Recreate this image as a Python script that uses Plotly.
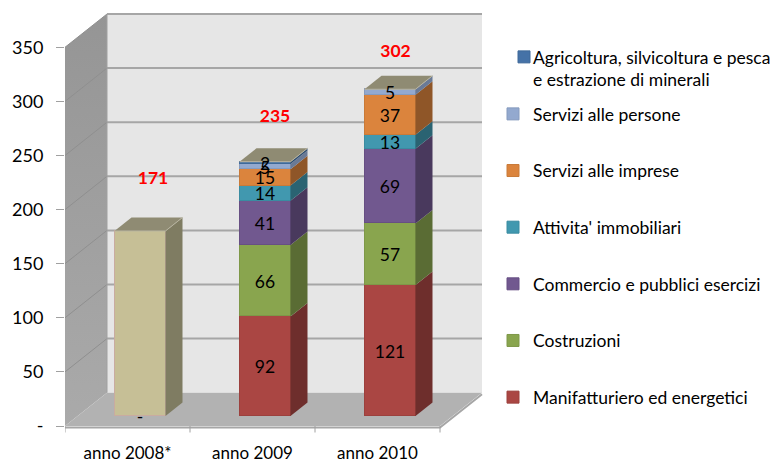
import plotly.graph_objects as go

categories = ["anno 2008*", "anno 2009", "anno 2010"]
series_names = [
    "Manifatturiero ed energetici",
    "Costruzioni",
    "Commercio e pubblici esercizi",
    "Attivita' immobiliari",
    "Servizi alle imprese",
    "Servizi alle persone",
    "Agricoltura, silvicoltura e pesca<br>e estrazione di minerali",
]
manifatturiero = [0, 92, 121]
costruzioni = [0, 66, 57]
commercio = [0, 41, 69]
immobiliari = [0, 14, 13]
imprese = [0, 15, 37]
persone = [0, 5, 5]
agricoltura = [0, 2, 0]
totale_2008 = [171, 0, 0]
totals = [171, 235, 302]
y_ticks = [0, 50, 100, 150, 200, 250, 300, 350]
y_ticktext = ["-", "50", "100", "150", "200", "250", "300", "350"]

front_colors = ["#AA4643", "#89A54E", "#71588F", "#4198AF", "#DB843D", "#93A9CF", "#4572A7"]
side_colors = ["#6E2E2C", "#5A6C34", "#49395D", "#2A6372", "#8F5628", "#6A7A96", "#2F4E72"]
edge_colors = ["#9C403D", "#7E9848", "#674F83", "#3A8CA1", "#C97A38", "#869BBE", "#3F6999"]
beige_front, beige_side, beige_top, beige_edge = "#C6BF96", "#7F7C62", "#8F8B73", "#C9ABA0"

# projection parameters (category units / value units)
PX_X, PX_Y = 125.0, 1.082
WALL_DX, WALL_DY = 42 / PX_X, 33.3 / PX_Y
BAR_OFF_X, BAR_OFF_Y = 12.5 / PX_X, 10 / PX_Y
BAR_DX, BAR_DY = 17 / PX_X, 13.5 / PX_Y
BAR_W = 51 / PX_X
X_MAX = 425 / PX_X
Y_MIN, Y_MAX = -10 / PX_Y, 421 / PX_Y
Y_TOP = y_ticks[-1]
LABEL_DY = -2.5
N = len(categories)

fig = go.Figure()


def poly(xs, ys, color, sub="main", gradient=None):
    extra = dict(fillgradient=gradient) if gradient else dict(fillcolor=color)
    fig.add_trace(go.Scatter(
        x=xs + xs[:1], y=ys + ys[:1], mode="lines", fill="toself",
        line=dict(width=0, color=color), hoverinfo="skip", showlegend=False,
        xaxis="x" if sub == "main" else "x2", yaxis="y" if sub == "main" else "y2", **extra))


def line(xs, ys, color, width, sub="main"):
    fig.add_trace(go.Scatter(
        x=xs, y=ys, mode="lines", line=dict(width=width, color=color), hoverinfo="skip",
        showlegend=False, xaxis="x" if sub == "main" else "x2", yaxis="y" if sub == "main" else "y2"))


# walls and floor
poly([WALL_DX, N + WALL_DX, N + WALL_DX, WALL_DX], [WALL_DY, WALL_DY, Y_TOP + WALL_DY, Y_TOP + WALL_DY], "#E6E6E6")
poly([0, WALL_DX, WALL_DX, 0], [0, WALL_DY, Y_TOP + WALL_DY, Y_TOP], "#9C9C9C",
     gradient=dict(type="vertical", colorscale=[[0, "#AAAAAA"], [1, "#959595"]]))
poly([0, N, N + WALL_DX, WALL_DX], [0, 0, WALL_DY, WALL_DY], "#B2B2B2")

for t in y_ticks[1:]:
    line([WALL_DX, N + WALL_DX], [t + WALL_DY, t + WALL_DY], "#A6A6A6", 2)
    line([0, WALL_DX], [t, t + WALL_DY], "#8F8F8F", 1)
line([WALL_DX, WALL_DX], [WALL_DY, Y_TOP + WALL_DY], "#A0A0A0", 1)
line([0, N, N + WALL_DX], [-1.5, -1.5, WALL_DY - 1.5], "#A6A6A6", 2)
for i in range(N + 1):
    line([i, i], [0, -6], "#A0A0A0", 1)

# bars
stack_values = [manifatturiero, costruzioni, commercio, immobiliari, imprese, persone, agricoltura]
xc = [i + 0.5 for i in range(N)]
for k, (name, vals) in enumerate(zip(series_names, stack_values)):
    fig.add_trace(go.Bar(
        x=xc, y=vals, width=BAR_W, name=name, xaxis="x2", yaxis="y2",
        marker=dict(color=front_colors[k], line=dict(color=edge_colors[k], width=1)),
        hoverinfo="skip", legendgroup=name, legendrank=100 - k,
        legend="legend" if k == 6 else "legend2"))
fig.add_trace(go.Bar(
    x=xc, y=totale_2008, width=BAR_W, name="Totale 2008", xaxis="x2", yaxis="y2", showlegend=False,
    marker=dict(color=beige_front, line=dict(color=beige_edge, width=1)), hoverinfo="skip"))

# side faces, top faces and labels
lab_x, lab_y, lab_t = [], [], []
for i in range(N):
    r = xc[i] + BAR_W / 2
    l = xc[i] - BAR_W / 2
    base = 0
    for k, vals in enumerate(stack_values + [totale_2008]):
        v = vals[i]
        if v > 0:
            color = side_colors[k] if k < 7 else beige_side
            poly([r, r + BAR_DX, r + BAR_DX, r], [base, base + BAR_DY, base + v + BAR_DY, base + v], color, "bar")
            if k < 7:
                lab_x.append(xc[i])
                lab_y.append(base + v / 2 + LABEL_DY)
                lab_t.append(str(v))
        base += v
    poly([l, r, r + BAR_DX, l + BAR_DX], [base, base, base + BAR_DY, base + BAR_DY], beige_top, "bar")
    line([l, r, r + BAR_DX], [base, base, base + BAR_DY], "#B8B4A0", 1, "bar")

# the empty Agricoltura value in 2008 is shown as a dash
lab_x.append(xc[0])
lab_y.append(LABEL_DY)
lab_t.append("-")

fig.add_trace(go.Scatter(
    x=lab_x, y=lab_y, text=lab_t, mode="text", textposition="middle center",
    textfont=dict(family="Lato", size=17.5, color="#000000"), hoverinfo="skip", showlegend=False,
    xaxis="x2", yaxis="y2"))

# red totals (hand-placed above the bars, as in the source)
total_dx = [13 / PX_X, 10 / PX_X, 5.5 / PX_X]
total_dy = [47, 41, 34]
fig.add_trace(go.Scatter(
    x=[c + d for c, d in zip(xc, total_dx)], y=[t + d for t, d in zip(totals, total_dy)],
    text=[str(t) for t in totals], mode="text", textposition="middle center",
    textfont=dict(family="Lato", size=17.5, color="#FF0000", weight="bold"), hoverinfo="skip",
    showlegend=False, xaxis="x2", yaxis="y2"))

legend_font = dict(family="Lato", size=17.5, color="#000000")
fig.update_layout(
    width=772, height=463, autosize=False,
    margin=dict(l=65, r=282, t=5, b=27, autoexpand=False),
    paper_bgcolor="#FFFFFF", plot_bgcolor="rgba(0,0,0,0)",
    barmode="stack", bargap=0, hovermode=False, font=dict(family="Lato", size=17, color="#000000"),
    xaxis=dict(range=[0, X_MAX], tickvals=xc, ticktext=categories, ticks="", showgrid=False,
               zeroline=False, showline=False, ticklabelstandoff=5, tickfont=dict(size=17)),
    yaxis=dict(range=[Y_MIN, Y_MAX], tickvals=y_ticks, ticktext=y_ticktext, ticks="outside", ticklen=8,
               tickcolor="#A0A0A0", tickwidth=1, showgrid=False, zeroline=False, showline=False,
               ticklabelstandoff=9, tickfont=dict(size=18)),
    xaxis2=dict(range=[-BAR_OFF_X, X_MAX - BAR_OFF_X], overlaying="x", anchor="y2", visible=False),
    yaxis2=dict(range=[Y_MIN - BAR_OFF_Y, Y_MAX - BAR_OFF_Y], overlaying="y", anchor="x2", visible=False),
    legend=dict(x=(493 - 65) / 425, xanchor="left", y=1 - (39 - 5) / 431, yanchor="top",
                font=legend_font, bgcolor="rgba(0,0,0,0)", valign="top", itemclick=False, itemdoubleclick=False),
    legend2=dict(x=(493 - 65) / 425, xanchor="left", y=1 - (96 - 5) / 431, yanchor="top",
                 font=legend_font, bgcolor="rgba(0,0,0,0)", traceorder="grouped", tracegroupgap=30.9,
                 itemclick=False, itemdoubleclick=False),
)
post = """
document.body.style.margin='0';document.body.style.overflow='hidden';
(function(){
  var gd=document.getElementById('{plot_id}');
  function nudge(){document.querySelectorAll('.legend .legendpoints').forEach(function(g){g.setAttribute('transform','translate(11,0)');});}
  nudge();
  if(gd&&gd.on){gd.on('plotly_afterplot',nudge);}
  setTimeout(nudge,0);setTimeout(nudge,200);
})();
"""
fig.write_html("out.html", config=dict(displayModeBar=False), post_script=post)
